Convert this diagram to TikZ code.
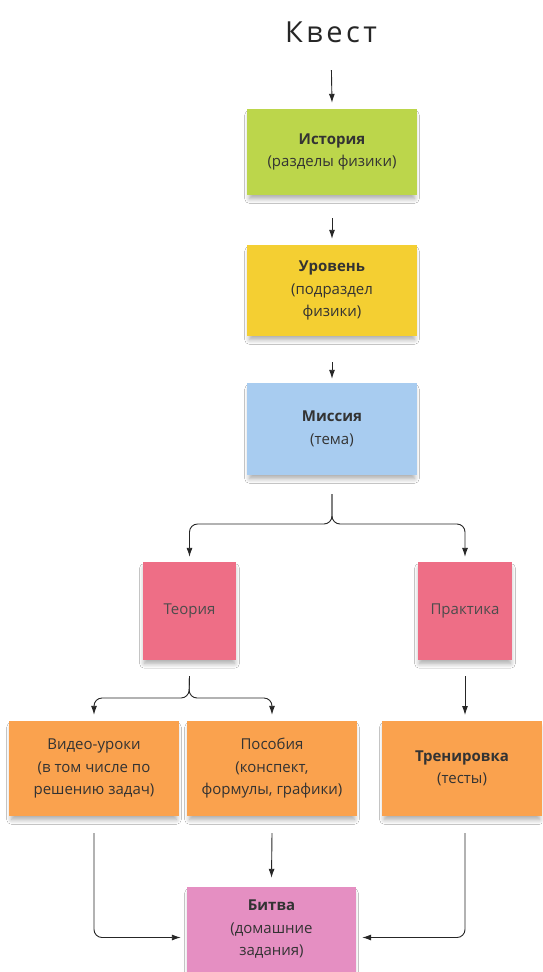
\documentclass[tikz,border=0pt]{standalone}
\usepackage{fontspec}
\setmainfont{Open Sans}
\usetikzlibrary{arrows.meta,positioning,shadows.blur}
\definecolor{qlime}{RGB}{188,214,75}
\definecolor{qyellow}{RGB}{244,207,50}
\definecolor{qblue}{RGB}{168,204,240}
\definecolor{qpink}{RGB}{238,110,134}
\definecolor{qorange}{RGB}{250,162,78}
\definecolor{qmagenta}{RGB}{229,143,194}
\begin{document}
\begin{tikzpicture}[x=1pt,y=-1pt,
  note/.style={inner sep=0pt,align=center,text=black!80,font=\fontsize{15}{22.5}\selectfont,
    blur shadow={shadow xshift=0pt,shadow yshift=-5pt,shadow scale=0.97,shadow opacity=35,shadow blur radius=5pt,shadow blur steps=8}},
  link/.style={-{Latex[length=9pt,width=6pt]},black!85,line width=0.9pt,rounded corners=8pt}
]
  \useasboundingbox[fill=white] (0,0) rectangle (542,972);
  % Title
  \node[font=\fontsize{29}{32}\selectfont\addfontfeatures{LetterSpace=12},text=black!85] (title) at (331,32) {Квест};
  % Main chain
  \node[note,fill=qlime,minimum width=170pt,minimum height=86pt] (ist) at (332,152) {\textbf{История}\\(разделы физики)};
  \node[note,fill=qyellow,minimum width=170pt,minimum height=91pt] (ur) at (332,290.5) {\textbf{Уровень}\\(подраздел\\физики)};
  \node[note,fill=qblue,minimum width=170pt,minimum height=92pt] (mis) at (332,429) {\textbf{Миссия}\\(тема)};
  % Branches
  \node[note,fill=qpink,minimum width=93pt,minimum height=98pt,text=black!70] (teo) at (189.5,611) {Теория};
  \node[note,fill=qpink,minimum width=94pt,minimum height=98pt,text=black!70] (pra) at (465,611) {Практика};
  % Materials
  \node[note,fill=qorange,minimum width=170pt,minimum height=95pt] (vid) at (94,768.5) {Видео-уроки\\(в том числе по\\решению задач)};
  \node[note,fill=qorange,minimum width=170pt,minimum height=95pt] (pos) at (272,768.5) {Пособия\\(конспект,\\формулы, графики)};
  \node[note,fill=qorange,minimum width=160pt,minimum height=95pt] (tre) at (462,768.5) {\textbf{Тренировка}\\(тесты)};
  % Final
  \node[note,fill=qmagenta,minimum width=169pt,minimum height=85pt] (bit) at (271.5,929.5) {\textbf{Битва}\\(домашние\\задания)};
  % Fork points
  \coordinate (fk1) at (332,524);
  \coordinate (fk2) at (189,698);
  \coordinate (trin) at (465,715);
  \coordinate (trout) at (465,833);
  % Edges
  \draw[link,shorten <=24pt] (title.south) -- ([yshift=6pt]ist.north);
  \draw[link] ([yshift=-23pt]ist.south) -- ([yshift=6pt]ur.north);
  \draw[link] ([yshift=-26pt]ur.south) -- ([yshift=4pt]mis.north);
  \draw[link] ([yshift=-19pt]mis.south) -- (fk1) -| ([yshift=5pt]teo.north);
  \draw[link] ([yshift=-19pt]mis.south) -- (fk1) -| ([yshift=5pt]pra.north);
  \draw[link] ([yshift=-16pt]teo.south) -- (fk2) -| ([yshift=6pt]vid.north);
  \draw[link] ([yshift=-16pt]teo.south) -- (fk2) -| ([yshift=6pt]pos.north);
  \draw[link] ([yshift=-16pt]pra.south) -- (trin);
  \draw[link] ([yshift=-17pt]vid.south) |- ([xshift=-6pt,yshift=-8pt]bit.west);
  \draw[link] ([yshift=-17pt]pos.south) -- ([yshift=9pt]bit.north);
  \draw[link] (trout) |- ([xshift=6pt,yshift=-8pt]bit.east);
\end{tikzpicture}
\end{document}
